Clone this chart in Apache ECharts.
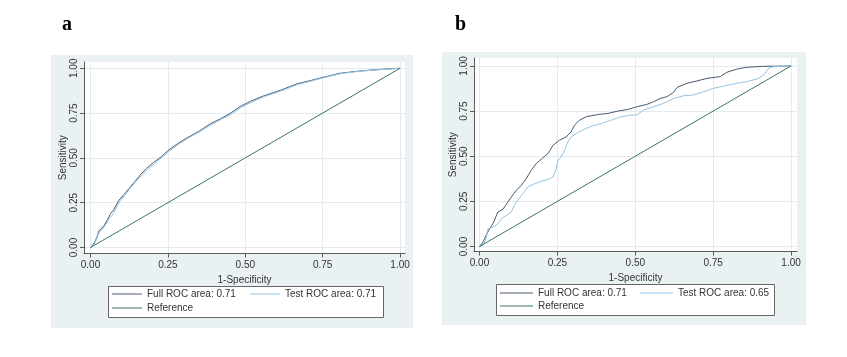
<!DOCTYPE html>
<html>
<head>
<meta charset="utf-8">
<script src="https://cdn.jsdelivr.net/npm/echarts@6/dist/echarts.min.js"></script>
<style>
html,body{margin:0;padding:0;background:#fff;}
#chart{width:847px;height:357px;}
</style>
</head>
<body>
<div id="chart"></div>
<script>
// ---- data ----
const tickValues = [0, 0.25, 0.5, 0.75, 1];
const panelLabels = ['a', 'b'];
const xAxisTitle = '1-Specificity';
const yAxisTitle = 'Sensitivity';

const fullNameA = 'Full ROC area: 0.71';
const testNameA = 'Test ROC area: 0.71';
const fullNameB = 'Full ROC area: 0.71';
const testNameB = 'Test ROC area: 0.65';
const refName = 'Reference';

const fullRocA = [[0,0],[0.008,0.015],[0.016,0.037],[0.022,0.065],[0.027,0.093],[0.035,0.105],[0.043,0.12],[0.055,0.155],[0.065,0.19],[0.075,0.21],[0.091,0.262],[0.108,0.295],[0.124,0.328],[0.142,0.365],[0.161,0.405],[0.180,0.44],[0.204,0.475],[0.228,0.505],[0.253,0.545],[0.282,0.58],[0.312,0.612],[0.350,0.648],[0.387,0.69],[0.420,0.718],[0.452,0.75],[0.484,0.787],[0.516,0.815],[0.559,0.846],[0.602,0.870],[0.645,0.898],[0.667,0.913],[0.710,0.931],[0.753,0.95],[0.806,0.972],[0.860,0.983],[0.914,0.991],[0.957,0.996],[1,1]];
const testRocA = [[0,0],[0.01,0.012],[0.018,0.04],[0.024,0.07],[0.03,0.09],[0.04,0.105],[0.05,0.13],[0.06,0.16],[0.07,0.18],[0.08,0.21],[0.095,0.26],[0.11,0.29],[0.126,0.325],[0.145,0.365],[0.165,0.40],[0.185,0.435],[0.208,0.47],[0.232,0.505],[0.256,0.54],[0.285,0.575],[0.315,0.61],[0.352,0.645],[0.39,0.685],[0.423,0.715],[0.455,0.745],[0.487,0.782],[0.52,0.81],[0.562,0.842],[0.605,0.867],[0.648,0.895],[0.67,0.91],[0.712,0.928],[0.755,0.948],[0.808,0.97],[0.862,0.982],[0.915,0.99],[0.958,0.995],[1,1]];
const fullRocB = [[0,0],[0.011,0.024],[0.021,0.061],[0.032,0.098],[0.043,0.126],[0.059,0.191],[0.075,0.206],[0.091,0.246],[0.102,0.274],[0.118,0.311],[0.134,0.339],[0.150,0.376],[0.166,0.422],[0.182,0.459],[0.203,0.491],[0.220,0.515],[0.236,0.561],[0.257,0.589],[0.278,0.607],[0.294,0.635],[0.305,0.672],[0.321,0.700],[0.343,0.719],[0.380,0.731],[0.412,0.737],[0.444,0.75],[0.476,0.759],[0.505,0.774],[0.537,0.787],[0.559,0.802],[0.580,0.820],[0.602,0.830],[0.623,0.854],[0.634,0.881],[0.666,0.904],[0.698,0.917],[0.730,0.931],[0.773,0.941],[0.794,0.965],[0.827,0.983],[0.859,0.993],[0.912,0.998],[1,1]];
const testRocB = [[0,0],[0.011,0.006],[0.021,0.043],[0.027,0.098],[0.043,0.107],[0.059,0.126],[0.070,0.154],[0.086,0.172],[0.102,0.191],[0.112,0.228],[0.123,0.256],[0.134,0.283],[0.145,0.306],[0.155,0.330],[0.177,0.348],[0.198,0.361],[0.220,0.372],[0.236,0.385],[0.246,0.431],[0.252,0.478],[0.262,0.496],[0.273,0.533],[0.284,0.580],[0.294,0.607],[0.316,0.631],[0.337,0.65],[0.364,0.669],[0.391,0.681],[0.423,0.70],[0.455,0.719],[0.487,0.728],[0.505,0.728],[0.527,0.756],[0.559,0.774],[0.591,0.793],[0.623,0.820],[0.655,0.835],[0.687,0.839],[0.719,0.857],[0.751,0.876],[0.784,0.889],[0.827,0.904],[0.859,0.913],[0.891,0.928],[0.912,0.950],[0.928,0.987],[0.944,0.996],[1,1]];
const referenceLine = [[0,0],[1,1]];

// ---- styling ----
const FONT = 'Liberation Sans, Arial, sans-serif';
const C_FULL = '#4a5b70';
const C_TEST = '#94c3e3';
const C_REF = '#3b7658';
const C_AXIS = '#5a5a5a';
const C_TEXT = '#333333';
const C_GRID = '#e3ebee';
const C_PANEL = '#eaf1f3';

function xAxisCfg(gi, min, max, labelMargin, nameGap) {
  return {
    gridIndex: gi, type: 'value', min: min, max: max,
    name: xAxisTitle, nameLocation: 'middle', nameGap: nameGap,
    nameTextStyle: {fontFamily: FONT, fontSize: 10, color: C_TEXT},
    axisLine: {show: true, onZero: false, lineStyle: {color: C_AXIS, width: 1}},
    axisTick: {show: true, length: 4, customValues: tickValues, lineStyle: {color: C_AXIS}},
    axisLabel: {customValues: tickValues, margin: labelMargin, fontFamily: FONT, fontSize: 10, color: C_TEXT,
      formatter: v => v.toFixed(2)},
    splitLine: {show: true, lineStyle: {color: C_GRID, width: 1}}
  };
}
function yAxisCfg(gi, min, max, labelMargin, nameGap) {
  return {
    gridIndex: gi, type: 'value', min: min, max: max,
    name: yAxisTitle, nameLocation: 'middle', nameGap: nameGap,
    nameTextStyle: {fontFamily: FONT, fontSize: 10, color: C_TEXT},
    axisLine: {show: true, onZero: false, lineStyle: {color: C_AXIS, width: 1}},
    axisTick: {show: true, length: 4, customValues: tickValues, lineStyle: {color: C_AXIS}},
    axisLabel: {customValues: tickValues, rotate: 90, margin: labelMargin, fontFamily: FONT, fontSize: 10, color: C_TEXT,
      formatter: v => v.toFixed(2)},
    splitLine: {show: true, lineStyle: {color: C_GRID, width: 1}}
  };
}
function lineSeries(name, data, color, xi) {
  return {
    name: name, type: 'line', data: data, xAxisIndex: xi, yAxisIndex: xi,
    symbol: 'none', showSymbol: false, lineStyle: {color: color, width: 1}, itemStyle: {color: color},
    emphasis: {disabled: true}, silent: true
  };
}
function legendCfg(name, left, top, w) {
  return {
    data: [name], left: left, top: top, padding: 0, itemWidth: w, itemHeight: 1, icon: 'rect',
    itemGap: 5, textStyle: {fontFamily: FONT, fontSize: 10, color: C_TEXT}, selectedMode: false
  };
}

const chart = echarts.init(document.getElementById('chart'), null, {renderer: 'canvas'});
chart.setOption({
  animation: false,
  backgroundColor: '#ffffff',
  title: [
    {text: panelLabels[0], left: 62, top: 15, padding: 0,
     textStyle: {fontFamily: 'Liberation Serif, Times New Roman, serif', fontWeight: 'bold', fontSize: 20, color: '#000'}},
    {text: panelLabels[1], left: 455, top: 15, padding: 0,
     textStyle: {fontFamily: 'Liberation Serif, Times New Roman, serif', fontWeight: 'bold', fontSize: 20, color: '#000'}}
  ],
  graphic: [
    {type: 'rect', z: -10, shape: {x: 51, y: 55, width: 362, height: 273}, style: {fill: C_PANEL}},
    {type: 'rect', z: -10, shape: {x: 442, y: 52, width: 364, height: 273}, style: {fill: C_PANEL}},
    {type: 'rect', z: 1, shape: {x: 108.5, y: 286.5, width: 275, height: 31}, style: {fill: '#fff', stroke: '#666', lineWidth: 1}},
    {type: 'rect', z: 1, shape: {x: 496.5, y: 284.5, width: 278, height: 31}, style: {fill: '#fff', stroke: '#666', lineWidth: 1}}
  ],
  grid: [
    {left: 84, top: 62, width: 321, height: 191.5, show: true, backgroundColor: '#fff', borderWidth: 0, containLabel: false},
    {left: 474, top: 58, width: 323, height: 193.5, show: true, backgroundColor: '#fff', borderWidth: 0, containLabel: false}
  ],
  xAxis: [
    xAxisCfg(0, -0.021, 1.016, 7, 17),
    xAxisCfg(1, -0.0177, 1.019, 7, 17)
  ],
  yAxis: [
    yAxisCfg(0, -0.0335, 1.035, 5, 15),
    yAxisCfg(1, -0.0277, 1.044, 5, 15)
  ],
  legend: [
    legendCfg(fullNameA, 112, 289, 30),
    legendCfg(testNameA, 250, 289, 30),
    legendCfg(refName, 112, 303, 30),
    legendCfg(fullNameB, 500, 288, 33),
    legendCfg(testNameB, 640, 288, 33),
    legendCfg(refName, 500, 301, 33)
  ],
  series: [
    lineSeries(fullNameA, fullRocA, C_FULL, 0),
    lineSeries(testNameA, testRocA, C_TEST, 0),
    lineSeries(refName, referenceLine, C_REF, 0),
    lineSeries(fullNameB, fullRocB, C_FULL, 1),
    lineSeries(testNameB, testRocB, C_TEST, 1),
    lineSeries(refName, referenceLine, C_REF, 1)
  ]
});
</script>
</body>
</html>
